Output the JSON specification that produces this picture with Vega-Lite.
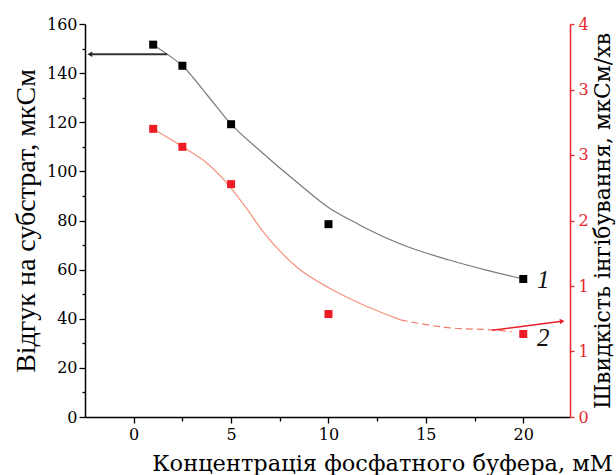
{
  "$schema": "https://vega.github.io/schema/vega-lite/v6.json",
  "width": 485,
  "height": 393,
  "autosize": {"type": "none"},
  "padding": {"left": 85, "top": 24, "right": 46, "bottom": 58},
  "background": "white",
  "config": {"view": {"stroke": null}, "axis": {"grid": false}},
  "datasets": {
    "pts1": [
      {"x": 1, "y": 151.6}, {"x": 2.5, "y": 143.0}, {"x": 5, "y": 119.2}, {"x": 10, "y": 78.5}, {"x": 20, "y": 56.2}
    ],
    "curve1": [
      {"x": 1, "y": 151.6}, {"x": 1.72, "y": 147.7}, {"x": 2.5, "y": 143.0}, {"x": 3.75, "y": 131.3}, {"x": 5, "y": 119.2},
      {"x": 6.63, "y": 107.4}, {"x": 8.35, "y": 95.8}, {"x": 10.06, "y": 85.0}, {"x": 11.6, "y": 78.2},
      {"x": 12.1, "y": 76.1}, {"x": 14, "y": 69.5}, {"x": 16.2, "y": 63.9}, {"x": 18, "y": 60.0}, {"x": 19.5, "y": 57.1}, {"x": 20, "y": 56.2}
    ],
    "arrow1": [{"x": 1.72, "y": 147.7}, {"x": -2.19, "y": 147.7}],
    "head1": [{"x": -2.25, "y": 147.7}],
    "labels": [{"x": 20.7, "y": 55.8, "t": "1"}, {"x": 20.7, "y": 32.2, "t": "2"}],
    "pts2": [
      {"x": 1, "y": 2.933}, {"x": 2.5, "y": 2.75}, {"x": 5, "y": 2.37}, {"x": 10, "y": 1.048}, {"x": 20, "y": 0.845}
    ],
    "curve2a": [
      {"x": 1, "y": 2.933}, {"x": 2.5, "y": 2.75}, {"x": 3.75, "y": 2.585}, {"x": 5, "y": 2.33}, {"x": 5.8, "y": 2.12}, {"x": 6.63, "y": 1.89},
      {"x": 7.5, "y": 1.69}, {"x": 8.35, "y": 1.53}, {"x": 10.06, "y": 1.31}, {"x": 11.6, "y": 1.158}, {"x": 13.7, "y": 0.988}
    ],
    "curve2b": [
      {"x": 13.7, "y": 0.988}, {"x": 16.2, "y": 0.908}, {"x": 18.5, "y": 0.885}, {"x": 19.4, "y": 0.868}
    ],
    "arrow2": [{"x": 18.4, "y": 0.8825}, {"x": 21.9, "y": 0.972}],
    "head2": [{"x": 22.0, "y": 0.975}]
  },
  "encoding": {
    "x": {
      "field": "x", "type": "quantitative",
      "scale": {"domain": [-2.5, 22.4], "nice": false, "zero": false},
      "axis": {
        "values": [0, 2.5, 5, 7.5, 10, 12.5, 15, 17.5, 20],
        "labelExpr": "datum.value % 5 == 0 ? datum.label : ''",
        "tickSize": {"expr": "datum.value % 5 == 0 ? 6 : 4"},
        "tickColor": "#000", "tickWidth": 1.3,
        "domainColor": "#000", "domainWidth": 1.5,
        "labelFont": "DejaVu Serif", "labelFontSize": 16, "labelColor": "#000", "labelPadding": 3,
        "title": "Концентрація фосфатного буфера, мМ",
        "titleFont": "DejaVu Serif", "titleFontSize": 22.5, "titleFontWeight": "normal", "titleColor": "#000",
        "titleX": 297, "titleY": 53, "titleAlign": "center", "titleBaseline": "alphabetic"
      }
    }
  },
  "layer": [
    {
      "encoding": {
        "y": {
          "field": "y", "type": "quantitative",
          "scale": {"domain": [0, 160], "nice": false},
          "axis": {
            "orient": "left",
            "values": [0, 10, 20, 30, 40, 50, 60, 70, 80, 90, 100, 110, 120, 130, 140, 150, 160],
            "labelExpr": "datum.value % 20 == 0 ? datum.label : ''",
            "tickSize": {"expr": "datum.value % 20 == 0 ? 6 : 3"},
            "tickColor": "#000", "tickWidth": 1.3,
            "domainColor": "#000", "domainWidth": 1.5,
            "labelFont": "DejaVu Serif", "labelFontSize": 16, "labelColor": "#000", "labelPadding": 2,
            "title": "Відгук на субстрат, мкСм",
            "titleFont": "Liberation Serif", "titleFontSize": 28, "titleFontWeight": "normal", "titleColor": "#000",
            "titlePadding": 6
          }
        }
      },
      "layer": [
        {"data": {"name": "curve1"}, "mark": {"type": "line", "interpolate": "monotone", "color": "#7a7a7a", "strokeWidth": 1.2}},
        {"data": {"name": "arrow1"}, "mark": {"type": "line", "color": "#333333", "strokeWidth": 2}},
        {"data": {"name": "head1"}, "mark": {"type": "point", "shape": "triangle-left", "filled": true, "color": "#222222", "size": 30, "opacity": 1}},
        {"data": {"name": "pts1"}, "mark": {"type": "point", "shape": "square", "filled": true, "color": "#000000", "size": 64, "opacity": 1}},
        {"data": {"name": "labels"}, "mark": {"type": "text", "font": "Liberation Serif", "fontStyle": "italic", "fontSize": 25, "align": "left", "baseline": "middle", "color": "#111"}, "encoding": {"text": {"field": "t"}}}
      ]
    },
    {
      "encoding": {
        "y": {
          "field": "y", "type": "quantitative",
          "scale": {"domain": [0, 4], "nice": false},
          "axis": {
            "orient": "right",
            "values": [0, 0.6667, 1.3333, 2, 2.6667, 3.3333, 4],
            "format": ".0f",
            "tickSize": 4,
            "tickColor": "#e8262d", "tickWidth": 1.3,
            "domainColor": "#e8262d", "domainWidth": 1.5,
            "labelFont": "DejaVu Serif", "labelFontSize": 16, "labelColor": "#e8262d", "labelPadding": 4,
            "title": "Швидкість інгібування, мкСм/хв",
            "titleFont": "DejaVu Serif", "titleFontSize": 22, "titleFontWeight": "normal", "titleColor": "#000",
            "titleAngle": 270, "titleBaseline": "top", "titlePadding": 4
          }
        }
      },
      "layer": [
        {"data": {"name": "curve2a"}, "mark": {"type": "line", "interpolate": "monotone", "color": "#f4937c", "strokeWidth": 1.2}},
        {"data": {"name": "curve2b"}, "mark": {"type": "line", "interpolate": "monotone", "color": "#f07a66", "strokeWidth": 1.2, "strokeDash": [7, 4]}},
        {"data": {"name": "arrow2"}, "mark": {"type": "line", "color": "#e8202a", "strokeWidth": 1.5}},
        {"data": {"name": "head2"}, "mark": {"type": "point", "shape": "triangle-right", "angle": -7, "filled": true, "color": "#e8202a", "size": 30, "opacity": 1}},
        {"data": {"name": "pts2"}, "mark": {"type": "point", "shape": "square", "filled": true, "color": "#ee1c25", "size": 64, "opacity": 1}}
      ]
    }
  ],
  "resolve": {"scale": {"y": "independent"}}
}
